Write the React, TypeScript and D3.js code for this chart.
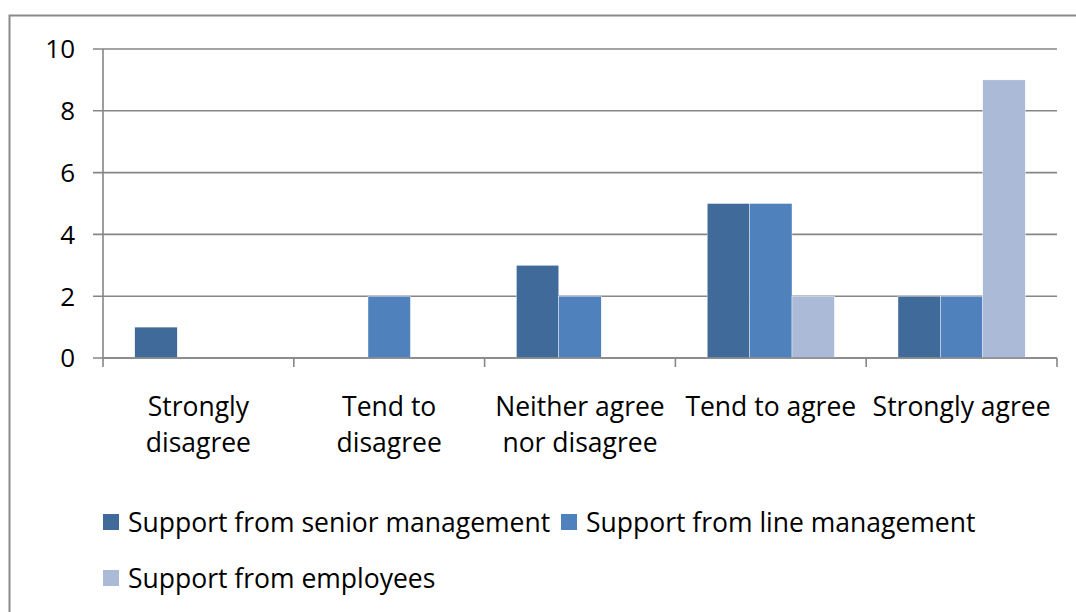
import React from "react";
import * as d3 from "d3";

const categories: string[][] = [
  ["Strongly", "disagree"],
  ["Tend to", "disagree"],
  ["Neither agree", "nor disagree"],
  ["Tend to agree"],
  ["Strongly agree"],
];
const seriesNames = [
  "Support from senior management",
  "Support from line management",
  "Support from employees",
];
const seniorValues = [1, 0, 3, 5, 2];
const lineValues = [0, 2, 2, 5, 2];
const employeeValues = [0, 0, 0, 2, 9];
const yTicks = [0, 2, 4, 6, 8, 10];
const colors = ["#3F6A9A", "#4F81BD", "#AABAD7"];

const FONT = "'Open Sans', sans-serif";

export default function App() {
  const left = 103, right = 1057, top = 49, bottom = 358;
  const series = [seniorValues, lineValues, employeeValues];
  const x0 = d3.scaleBand<number>().domain(d3.range(categories.length)).range([left, right]).paddingInner(0).paddingOuter(0);
  const x1 = d3.scaleBand<number>().domain([0, 1, 2]).range([0, x0.bandwidth()]).paddingInner(0).paddingOuter(0.75);
  const y = d3.scaleLinear().domain([0, 10]).range([bottom, top]);
  const grid = "#868686";
  const boundaries = d3.range(categories.length + 1).map((i) => left + i * x0.bandwidth());

  return (
    <svg width={1076} height={612} style={{ position: "absolute", left: 0, top: 0, background: "#fff" }}>
      <rect x={9.5} y={15.5} width={1100} height={700} fill="#fff" stroke="#8a8a8a" strokeWidth={2} />
      {yTicks.map((t) => (
        <g key={t}>
          <line x1={93} x2={right} y1={y(t)} y2={y(t)} stroke={grid} strokeWidth={1.6} />
          <text x={75} y={y(t)} dy="0.36em" textAnchor="end" fontFamily={FONT} fontSize={26} fill="#000">{t}</text>
        </g>
      ))}
      {series.map((vals, si) =>
        vals.map((v, ci) =>
          v > 0 ? (
            <rect key={`${si}-${ci}`} x={x0(ci)! + x1(si)!} y={y(v)} width={x1.bandwidth()} height={y(0) - y(v)} fill={colors[si]} stroke="#fff" strokeWidth={0.4} />
          ) : null
        )
      )}
      <line x1={left} x2={left} y1={top} y2={bottom} stroke={grid} strokeWidth={1.6} />
      <line x1={left} x2={right} y1={bottom} y2={bottom} stroke={grid} strokeWidth={1.6} />
      {boundaries.map((b, i) => (
        <line key={i} x1={b} x2={b} y1={bottom} y2={bottom + 9} stroke={grid} strokeWidth={1.6} />
      ))}
      {categories.map((lines, ci) => (
        <text key={ci} textAnchor="middle" fontFamily={FONT} fontSize={26.5} fill="#000">
          {lines.map((l, li) => (
            <tspan key={li} x={x0(ci)! + x0.bandwidth() / 2} y={416 + li * 36}>{l}</tspan>
          ))}
        </text>
      ))}
      {[
        { x: 103, y: 514, i: 0 },
        { x: 561, y: 514, i: 1 },
        { x: 103, y: 570, i: 2 },
      ].map(({ x, y: ly, i }) => (
        <g key={i}>
          <rect x={x} y={ly} width={16} height={16} fill={colors[i]} />
          <text x={x + 25} y={ly + 8} dy="0.36em" fontFamily={FONT} fontSize={26.5} fill="#000">{seriesNames[i]}</text>
        </g>
      ))}
    </svg>
  );
}
